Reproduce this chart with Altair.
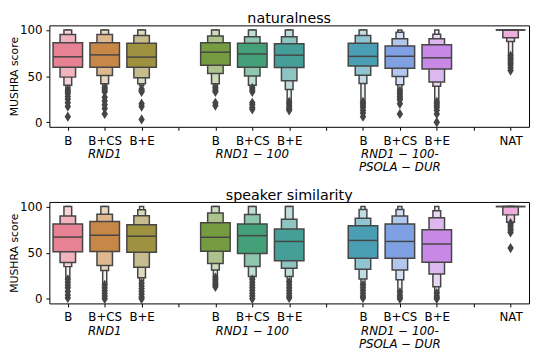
import json
import colorsys
import altair as alt
import pandas as pd

# ---------------- data ----------------
positions = [0, 1, 2, 4, 5, 6, 8, 9, 10, 12]
conditions = ["B", "B+CS", "B+E", "B", "B+CS", "B+E", "B", "B+CS", "B+E", "NAT"]
palette = ["#f77189", "#dc8932", "#ae9d31", "#77ab31", "#33b07a",
           "#36ada4", "#38a9c5", "#6e9bf4", "#cc7af4", "#f565cc"]
tick_labels = ["B", "B+CS", "B+E", "", "B", "B+CS", "B+E", "", "B", "B+CS", "B+E", "", "NAT"]
group_pos = [1, 5, 9]
group_line1 = ["RND1", "RND1 − 100", "RND1 − 100-"]
group_line2 = ["", "", "PSOLA − DUR"]
panel_titles = ["naturalness", "speaker similarity"]
y_ticks = [0, 50, 100]

# letter-value boxes: lower / upper ends, from the IQR box outwards
nat_lo = [[59.6, 48.9, 40.0, 36.5], [59.6, 50.7, 41.8, 38.0], [59.6, 48.2, 41.8, 39.5],
          [61.7, 52.8, 41.8, 38.0], [59.6, 50.0, 40.0, 38.0], [59.3, 45.0, 35.4, 23.0],
          [61.0, 51.0, 42.0, 23.0], [58.6, 49.6, 40.7, 34.4], [57.8, 43.6, 39.0, 23.0],
          [100.0, 91.5, 87.5, 73.0]]
nat_hi = [[86.2, 95.0, 100, 100], [86.2, 95.0, 100, 100], [85.5, 94.0, 100, 100],
          [86.2, 93.6, 100, 100], [85.5, 92.7, 100, 100], [85.1, 92.7, 100, 100],
          [85.7, 94.0, 100, 100], [82.6, 90.4, 97.5, 100], [84.0, 90.4, 95.4, 100],
          [100, 100, 100, 100]]
nat_med = [70.9, 73.0, 70.6, 75.9, 74.0, 72.7, 71.4, 71.5, 69.8, 100]
nat_out = [[35, 33, 31, 28, 25, 21, 17, 6], [37, 35, 33, 27, 23, 19, 15, 9],
           [36, 34, 33, 20, 17, 3], [37, 35, 33, 21, 18], [37, 35, 33, 21, 19, 16, 14],
           [22, 20, 18, 16, 14, 13], [22, 20, 18, 16, 13, 10, 6],
           [34, 32, 30, 28, 26, 24, 20, 9], [22, 20, 18, 16, 13, 9, 0],
           [72, 70, 68, 66, 64, 62, 59, 56]]

sim_lo = [[50.9, 39.3, 34.9, 22.5], [51.2, 36.0, 30.7, 15.9], [50.5, 34.2, 22.9, 19.4],
          [51.6, 38.4, 31.3, 24.3], [49.2, 35.0, 24.3, 22.6], [41.3, 33.2, 24.3, 19.0],
          [43.9, 32.0, 21.4, 15.4], [43.9, 31.3, 20.7, 8.0], [39.6, 27.0, 13.0, 7.0],
          [100.0, 91.0, 83.0, 83.0]]
sim_hi = [[81.0, 89.7, 100, 100], [83.8, 91.8, 100, 100], [80.2, 90.0, 96.5, 100],
          [82.4, 93.0, 100, 100], [81.0, 91.5, 100, 100], [75.6, 86.2, 100, 100],
          [79.3, 87.3, 96.9, 100], [81.0, 89.7, 96.9, 100], [75.0, 88.0, 95.4, 100],
          [100, 100, 100, 100]]
sim_med = [66.9, 68.9, 67.9, 66.7, 68.5, 62.2, 63.3, 62.2, 59.4, 100]
sim_out = [[21, 18, 15, 12, 8, 4, 1], [15, 12, 9, 6, 3, 0], [17, 14, 11, 8, 5, 2, 0],
           [23, 21, 19, 17, 15, 13], [21, 18, 15, 12, 9, 6, 3, 0], [18, 15, 12, 9, 6, 3, 1],
           [15, 12, 9, 6, 3, 1], [7, 4, 2, 0], [6, 3, 1, 0],
           [82, 80, 78, 76, 74, 72, 55]]

# ---------------- style ----------------
FONT = "DejaVu Sans"
EDGE = "#454545"
W, H = 487, 103
LEVEL_W = [0.8, 0.42, 0.21, 0.11, 0.06]
LEVEL_T = [1.0, 0.6, 0.35, 0.12, 0.0]


def desat(hx, f=0.75):
    r, g, b = (int(hx[i:i + 2], 16) / 255 for i in (1, 3, 5))
    h, l, s = colorsys.rgb_to_hls(r, g, b)
    return colorsys.hls_to_rgb(h, l, s * f)


def mix(rgb, t):
    return "#%02x%02x%02x" % tuple(int(round(255 * (t * c + (1 - t) * 1.0))) for c in rgb)


lbl_expr = json.dumps(tick_labels) + "[round(datum.value)]"

XS = alt.Scale(domain=[-0.5, 12.5], nice=False, zero=False)
YS = alt.Scale(domain=[-5, 105], nice=False, zero=False)
XAXIS = alt.Axis(values=list(range(13)), labelExpr=lbl_expr, title=None, grid=False,
                 domain=False, tickSize=3.5, tickColor="black", labelPadding=5,
                 labelFontSize=12, labelColor="black", labelFont=FONT)
YAXIS = alt.Axis(values=y_ticks, title="MUSHRA score", grid=False, domain=False,
                 tickSize=3.5, tickColor="black", labelPadding=4, labelFontSize=12,
                 labelColor="black", labelFont=FONT, titleFont=FONT, titleFontSize=11,
                 titleFontWeight="normal", titleColor="black", titlePadding=0)


def X(f="x"):
    return alt.X(f + ":Q", scale=XS, axis=XAXIS, title=None)


def Y(f="y"):
    return alt.Y(f + ":Q", scale=YS, axis=YAXIS, title="MUSHRA score")


def panel(title, lo, hi, med, out):
    box_rows, med_rows, out_rows = [], [], []
    for i, p in enumerate(positions):
        base = desat(palette[i])
        for k, (l, h) in enumerate(zip(lo[i], hi[i])):
            w = LEVEL_W[k]
            box_rows.append(dict(level=k, x=p - w / 2, x2=p + w / 2, y=l, y2=h,
                                 fill=mix(base, LEVEL_T[k])))
        med_rows.append(dict(x=p - 0.4, x2=p + 0.4, y=med[i]))
        for v in out[i]:
            out_rows.append(dict(x=p, y=v))
    box_rows.sort(key=lambda r: -r["level"])
    boxes = pd.DataFrame(box_rows)
    meds = pd.DataFrame(med_rows)
    outs = pd.DataFrame(out_rows)

    box_layer = alt.Chart(boxes).mark_rect(stroke=EDGE, strokeWidth=1.5).encode(
        x=X(), x2="x2:Q", y=Y(), y2="y2:Q",
        fill=alt.Fill("fill:N", scale=None),
    )
    med_layer = alt.Chart(meds).mark_rule(color=EDGE, strokeWidth=1.5).encode(
        x=X(), x2="x2:Q", y=Y(),
    )
    out_layer = alt.Chart(outs).mark_point(
        shape="M0,-1L0.62,0L0,1L-0.62,0Z", size=110, filled=True, color=EDGE, opacity=1
    ).encode(x=X(), y=Y())
    g = pd.DataFrame({"x": group_pos, "l1": group_line1, "l2": group_line2})
    g1 = alt.Chart(g).mark_text(font=FONT, fontSize=12, fontStyle="italic",
                                baseline="middle", color="black").encode(
        x=X(), y=alt.value(H + 27.8), text="l1:N")
    g2 = alt.Chart(g).mark_text(font=FONT, fontSize=12, fontStyle="italic",
                                baseline="middle", color="black").encode(
        x=X(), y=alt.value(H + 41.1), text="l2:N")
    t = alt.Chart(pd.DataFrame({"t": [title]})).mark_text(
        font=FONT, fontSize=14.5, baseline="alphabetic", align="center", color="black"
    ).encode(x=alt.value(W / 2), y=alt.value(-2), text="t:N")
    return alt.layer(box_layer, med_layer, out_layer, g1, g2, t).properties(width=W, height=H)


top = panel(panel_titles[0], nat_lo, nat_hi, nat_med, nat_out)
bottom = panel(panel_titles[1], sim_lo, sim_hi, sim_med, sim_out)

chart = alt.vconcat(top, bottom, spacing=76.3, bounds="flush").properties(
    padding={"left": 0, "top": 0, "right": 0, "bottom": 0}
).configure(background="white").configure_view(stroke="black", strokeWidth=1)

chart.save("out.html", embed_options={"renderer": "svg", "actions": False})
